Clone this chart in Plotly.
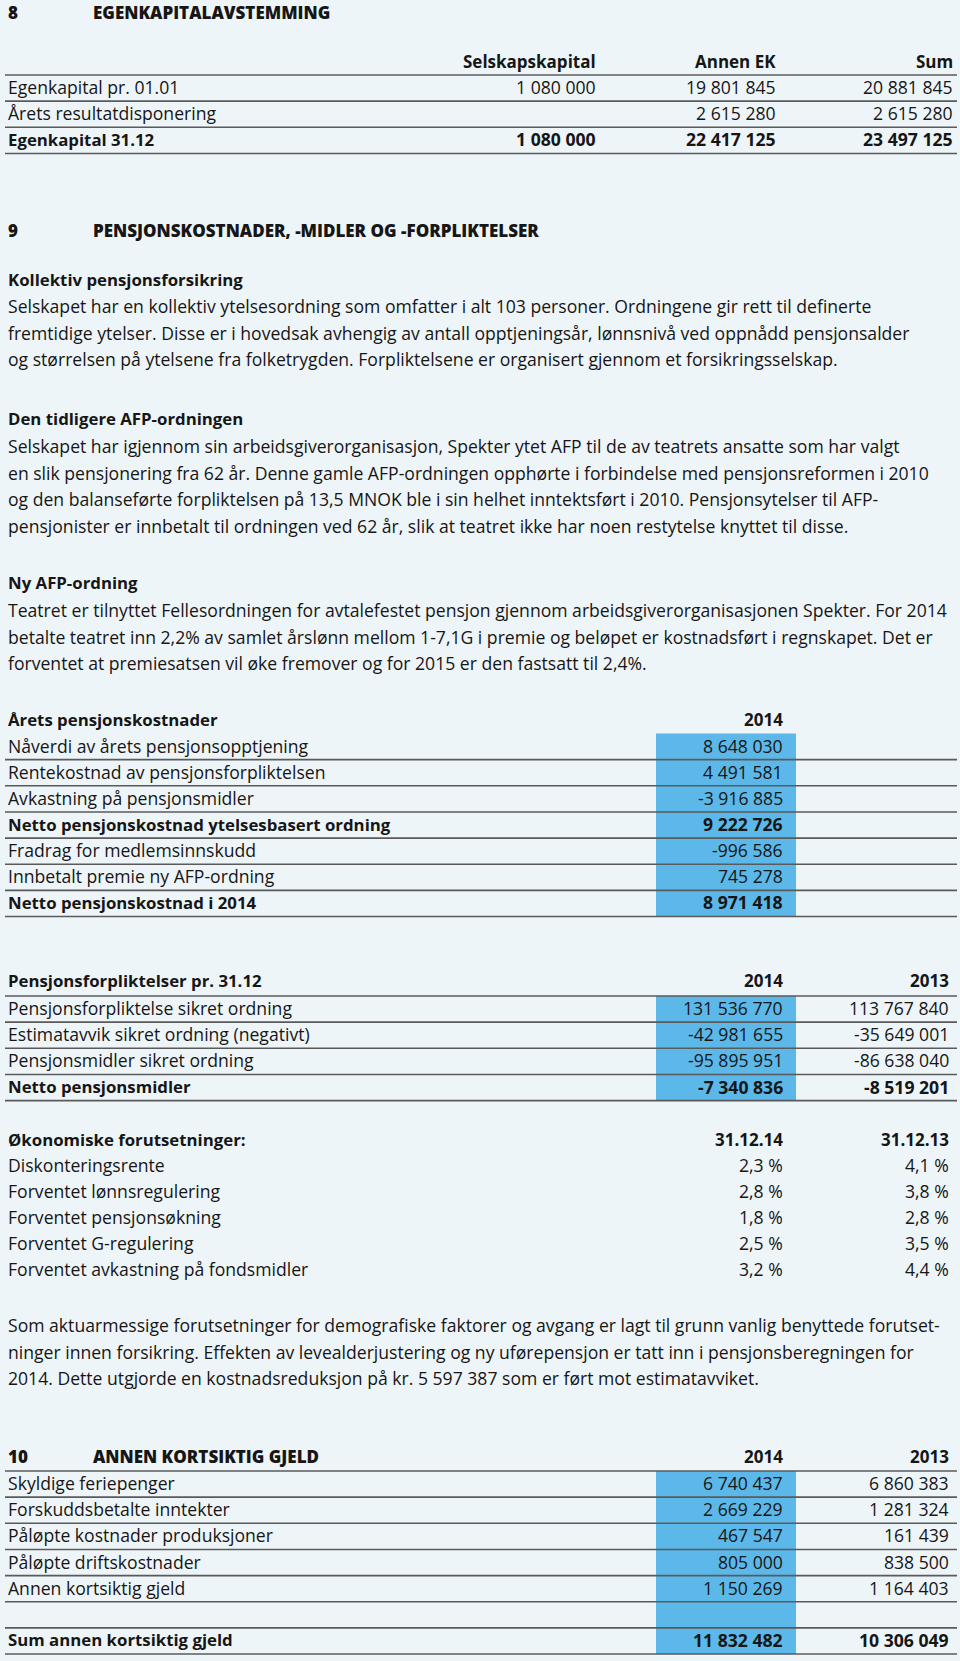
import plotly.graph_objects as go

# ---------------- DATA ----------------
s8_number = "8"
s8_title = "EGENKAPITALAVSTEMMING"
s8_columns = ["Selskapskapital", "Annen EK", "Sum"]
s8_rows = ["Egenkapital pr. 01.01", "Årets resultatdisponering", "Egenkapital 31.12"]
s8_selskapskapital = [1080000, None, 1080000]
s8_annen_ek = [19801845, 2615280, 22417125]
s8_sum = [20881845, 2615280, 23497125]
s8_bold = [False, False, True]

s9_number = "9"
s9_title = "PENSJONSKOSTNADER, -MIDLER OG -FORPLIKTELSER"
p1_head = "Kollektiv pensjonsforsikring"
p1_lines = [
    "Selskapet har en kollektiv ytelsesordning som omfatter i alt 103 personer. Ordningene gir rett til definerte",
    "fremtidige ytelser. Disse er i hovedsak avhengig av antall opptjeningsår, lønnsnivå ved oppnådd pensjonsalder",
    "og størrelsen på ytelsene fra folketrygden. Forpliktelsene er organisert gjennom et forsikringsselskap.",
]
p2_head = "Den tidligere AFP-ordningen"
p2_lines = [
    "Selskapet har igjennom sin arbeidsgiverorganisasjon, Spekter ytet AFP til de av teatrets ansatte som har valgt",
    "en slik pensjonering fra 62 år. Denne gamle AFP-ordningen opphørte i forbindelse med pensjonsreformen i 2010",
    "og den balanseførte forpliktelsen på 13,5 MNOK ble i sin helhet inntektsført i 2010. Pensjonsytelser til AFP-",
    "pensjonister er innbetalt til ordningen ved 62 år, slik at teatret ikke har noen restytelse knyttet til disse.",
]
p3_head = "Ny AFP-ordning"
p3_lines = [
    "Teatret er tilnyttet Fellesordningen for avtalefestet pensjon gjennom arbeidsgiverorganisasjonen Spekter. For 2014",
    "betalte teatret inn 2,2% av samlet årslønn mellom 1-7,1G i premie og beløpet er kostnadsført i regnskapet. Det er",
    "forventet at premiesatsen vil øke fremover og for 2015 er den fastsatt til 2,4%.",
]

cost_head = "Årets pensjonskostnader"
cost_year = "2014"
cost_rows = [
    "Nåverdi av årets pensjonsopptjening",
    "Rentekostnad av pensjonsforpliktelsen",
    "Avkastning på pensjonsmidler",
    "Netto pensjonskostnad ytelsesbasert ordning",
    "Fradrag for medlemsinnskudd",
    "Innbetalt premie ny AFP-ordning",
    "Netto pensjonskostnad i 2014",
]
cost_2014 = [8648030, 4491581, -3916885, 9222726, -996586, 745278, 8971418]
cost_bold = [False, False, False, True, False, False, True]

obl_head = "Pensjonsforpliktelser pr. 31.12"
obl_years = ["2014", "2013"]
obl_rows = [
    "Pensjonsforpliktelse sikret ordning",
    "Estimatavvik sikret ordning (negativt)",
    "Pensjonsmidler sikret ordning",
    "Netto pensjonsmidler",
]
obl_2014 = [131536770, -42981655, -95895951, -7340836]
obl_2013 = [113767840, -35649001, -86638040, -8519201]
obl_bold = [False, False, False, True]

eco_head = "Økonomiske forutsetninger:"
eco_dates = ["31.12.14", "31.12.13"]
eco_rows = [
    "Diskonteringsrente",
    "Forventet lønnsregulering",
    "Forventet pensjonsøkning",
    "Forventet G-regulering",
    "Forventet avkastning på fondsmidler",
]
eco_2014 = [2.3, 2.8, 1.8, 2.5, 3.2]
eco_2013 = [4.1, 3.8, 2.8, 3.5, 4.4]

note_lines = [
    "Som aktuarmessige forutsetninger for demografiske faktorer og avgang er lagt til grunn vanlig benyttede forutset-",
    "ninger innen forsikring. Effekten av levealderjustering og ny uførepensjon er tatt inn i pensjonsberegningen for",
    "2014. Dette utgjorde en kostnadsreduksjon på kr. 5 597 387 som er ført mot estimatavviket.",
]

s10_number = "10"
s10_title = "ANNEN KORTSIKTIG GJELD"
s10_years = ["2014", "2013"]
s10_rows = [
    "Skyldige feriepenger",
    "Forskuddsbetalte inntekter",
    "Påløpte kostnader produksjoner",
    "Påløpte driftskostnader",
    "Annen kortsiktig gjeld",
    "",
    "Sum annen kortsiktig gjeld",
]
s10_2014 = [6740437, 2669229, 467547, 805000, 1150269, None, 11832482]
s10_2013 = [6860383, 1281324, 161439, 838500, 1164403, None, 10306049]
s10_bold = [False, False, False, False, False, False, True]

# ---------------- STYLE / LAYOUT ----------------
W, H = 960, 1661
BG = "#eef5f9"
BLUE = "#5cb8e8"
LINE = "#5a5a5a"
TXT = "#161616"
FONT = "Open Sans"
FS = 17.6        # regular text and numbers
FSB = 16.8       # bold labels
FSN = 17.6       # bold numbers
FST = 17.0       # section titles

X_LEFT = 7
X_TITLE = 92
LINE_X0, LINE_X1 = 5, 957
COL14, COL13 = 784, 950
BLUE_X0, BLUE_X1 = 656, 796
PITCH = 26.15
DY = -1          # text offset inside table cells


def fmt(v):
    if v is None:
        return ""
    s = f"{abs(v):,}".replace(",", " ")
    return ("-" if v < 0 else "") + s


def pct(v):
    return f"{v:.1f}".replace(".", ",") + " %"


annotations = []
shapes = []


def txt(x, y, s, anchor="left", bold=False, size=None, weight=None):
    if s == "":
        return
    if size is None:
        size = FSB if bold else FS
    if weight is None:
        weight = "bold" if bold else "normal"
    annotations.append(dict(
        x=x, y=y, xref="x", yref="y", text=s,
        showarrow=False, xanchor=anchor, yanchor="middle",
        font=dict(family=FONT, size=size, color=TXT, weight=weight), borderpad=0,
    ))


def title(x, y, s):
    txt(x, y, s, size=FST, weight=800)


def num(x, y, s, bold=False):
    txt(x, y, s, anchor="right", bold=bold, size=FSN if bold else FS)


def hline(y):
    shapes.append(dict(type="line", xref="x", yref="y", x0=LINE_X0, x1=LINE_X1,
                       y0=y, y1=y, line=dict(color=LINE, width=1.6), layer="above"))


def blue(y0, y1):
    shapes.append(dict(type="rect", xref="x", yref="y", x0=BLUE_X0, x1=BLUE_X1,
                       y0=y0, y1=y1, fillcolor=BLUE, line=dict(width=0), layer="below"))


# ---- Section 8 ----
title(X_LEFT, 12, s8_number)
title(X_TITLE, 12, s8_title)
s8_x = [597, 777, 954]
hdr_line = 75
for cx, c in zip(s8_x, s8_columns):
    txt(cx, 61, c, anchor="right", bold=True, size=17)
hline(hdr_line)
for i, lab in enumerate(s8_rows):
    yc = hdr_line + PITCH * (i + 0.5) + DY
    b = s8_bold[i]
    txt(X_LEFT, yc, lab, bold=b)
    for cx, vals in zip(s8_x, [s8_selskapskapital, s8_annen_ek, s8_sum]):
        num(cx, yc, fmt(vals[i]), bold=b)
    hline(hdr_line + PITCH * (i + 1))

# ---- Section 9 text ----
title(X_LEFT, 230, s9_number)
title(X_TITLE, 230, s9_title)

LP = 26.6
txt(X_LEFT, 279, p1_head, bold=True)
for i, l in enumerate(p1_lines):
    txt(X_LEFT, 306 + LP * i, l)
txt(X_LEFT, 418, p2_head, bold=True)
for i, l in enumerate(p2_lines):
    txt(X_LEFT, 446 + LP * i, l)
txt(X_LEFT, 582, p3_head, bold=True)
for i, l in enumerate(p3_lines):
    txt(X_LEFT, 610 + LP * i, l)

# ---- Årets pensjonskostnader ----
top = 733.5
txt(X_LEFT, 719, cost_head, bold=True)
txt(COL14, 719, cost_year, anchor="right", bold=True, size=17)
blue(top, top + PITCH * len(cost_rows))
for i, lab in enumerate(cost_rows):
    yc = top + PITCH * (i + 0.5) + DY
    b = cost_bold[i]
    txt(X_LEFT, yc, lab, bold=b)
    num(COL14, yc, fmt(cost_2014[i]), bold=b)
    hline(top + PITCH * (i + 1))

# ---- Pensjonsforpliktelser ----
top = 996
txt(X_LEFT, 980, obl_head, bold=True)
txt(COL14, 980, obl_years[0], anchor="right", bold=True, size=17)
txt(COL13, 980, obl_years[1], anchor="right", bold=True, size=17)
blue(top, top + PITCH * len(obl_rows))
hline(top)
for i, lab in enumerate(obl_rows):
    yc = top + PITCH * (i + 0.5) + DY
    b = obl_bold[i]
    txt(X_LEFT, yc, lab, bold=b)
    num(COL14, yc, fmt(obl_2014[i]), bold=b)
    num(COL13, yc, fmt(obl_2013[i]), bold=b)
    hline(top + PITCH * (i + 1))

# ---- Økonomiske forutsetninger ----
txt(X_LEFT, 1139, eco_head, bold=True)
txt(COL14, 1139, eco_dates[0], anchor="right", bold=True, size=17)
txt(COL13, 1139, eco_dates[1], anchor="right", bold=True, size=17)
for i, lab in enumerate(eco_rows):
    yc = 1165 + 26 * i
    txt(X_LEFT, yc, lab)
    num(COL14, yc, pct(eco_2014[i]))
    num(COL13, yc, pct(eco_2013[i]))

# ---- Note ----
for i, l in enumerate(note_lines):
    txt(X_LEFT, 1325 + LP * i, l)

# ---- Section 10 ----
top = 1471
title(X_LEFT, 1456, s10_number)
title(X_TITLE, 1456, s10_title)
txt(COL14, 1456, s10_years[0], anchor="right", bold=True, size=17)
txt(COL13, 1456, s10_years[1], anchor="right", bold=True, size=17)
blue(top, top + PITCH * len(s10_rows))
hline(top)
for i, lab in enumerate(s10_rows):
    yc = top + PITCH * (i + 0.5) + DY
    b = s10_bold[i]
    txt(X_LEFT, yc, lab, bold=b)
    num(COL14, yc, fmt(s10_2014[i]), bold=b)
    num(COL13, yc, fmt(s10_2013[i]), bold=b)
    hline(top + PITCH * (i + 1))

fig = go.Figure()
fig.update_layout(
    width=W, height=H,
    margin=dict(l=0, r=0, t=0, b=0),
    paper_bgcolor=BG, plot_bgcolor=BG,
    xaxis=dict(range=[0, W], visible=False, fixedrange=True),
    yaxis=dict(range=[H, 0], visible=False, fixedrange=True),
    showlegend=False,
    annotations=annotations,
    shapes=shapes,
)

fig.write_html(
    "out.html",
    config={"displayModeBar": False, "staticPlot": True},
    post_script="document.body.style.margin='0';document.body.style.overflow='hidden';document.body.style.background='" + BG + "';",
)
